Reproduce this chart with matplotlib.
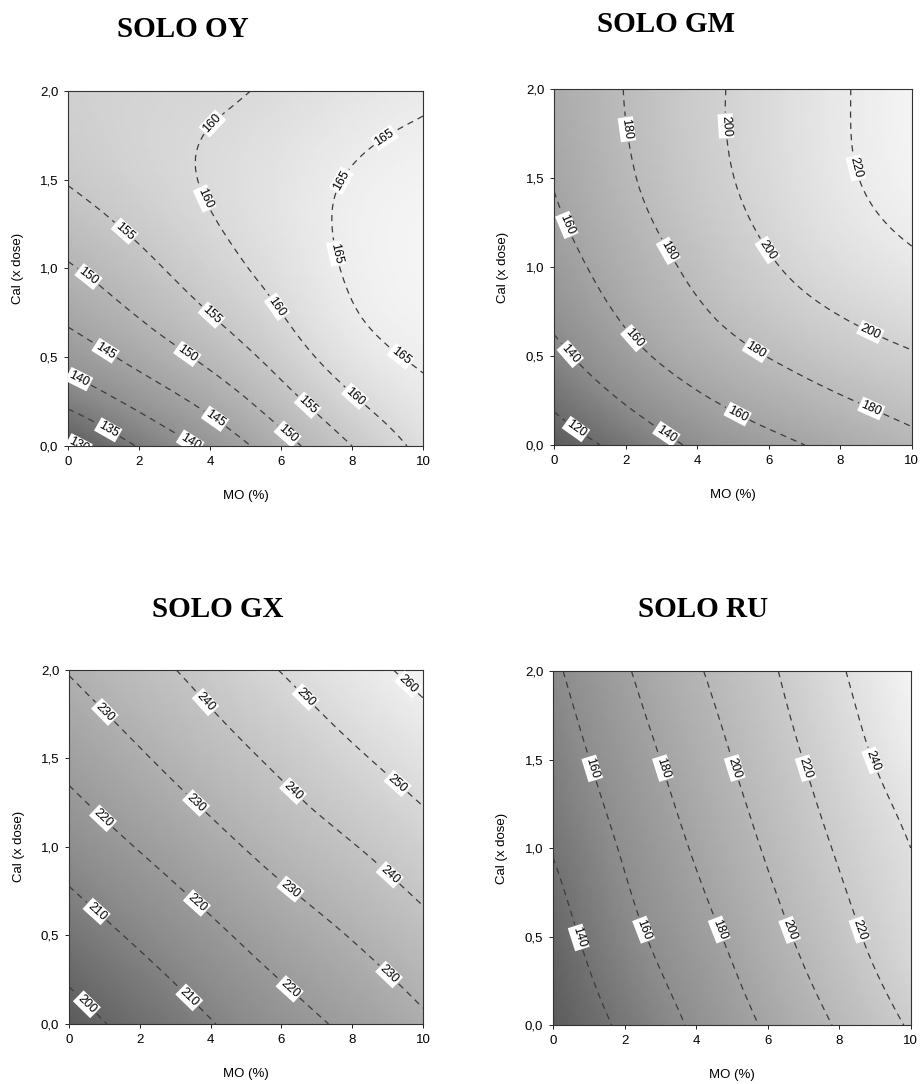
import matplotlib
matplotlib.use("Agg")
import matplotlib.pyplot as plt
import matplotlib.tri as mtri
import numpy as np
from matplotlib.colors import LinearSegmentedColormap
from matplotlib.ticker import FuncFormatter

MO = [0, 2, 4, 6, 8, 10]
CAL = [0.0, 0.5, 1.0, 1.5, 2.0]

# rows = CAL, cols = MO
OY_Z = [
    [129.0, 135.3, 141.2, 148.0, 155.0, 161.3],
    [142.0, 146.5, 151.3, 157.0, 162.7, 165.6],
    [149.5, 153.5, 157.8, 161.8, 165.5, 167.0],
    [155.3, 158.0, 160.4, 162.8, 165.3, 166.5],
    [157.5, 158.5, 159.2, 160.8, 162.8, 164.3],
]
GM_Z = [
    [110.0, 126.0, 143.0, 155.0, 165.0, 175.0],
    [135.0, 154.0, 169.0, 180.5, 190.5, 198.5],
    [152.0, 169.0, 184.0, 198.0, 209.0, 217.0],
    [161.0, 177.5, 193.0, 206.0, 217.5, 226.0],
    [166.0, 180.5, 195.0, 207.0, 218.5, 227.5],
]
GX_Z = [
    [196.5, 203.0, 209.5, 216.0, 222.0, 228.5],
    [205.0, 211.5, 218.0, 224.5, 230.5, 237.0],
    [214.0, 220.5, 227.0, 233.5, 239.5, 246.0],
    [222.5, 229.0, 235.5, 242.0, 248.5, 254.5],
    [230.5, 236.8, 243.2, 250.3, 256.5, 262.5],
]
RU_Z = [
    [124.0, 143.5, 163.0, 182.5, 202.0, 222.0],
    [131.5, 154.0, 173.0, 193.0, 213.5, 234.0],
    [141.0, 162.0, 182.0, 202.0, 222.0, 240.0],
    [149.5, 170.0, 190.0, 210.0, 230.5, 251.0],
    [157.0, 178.0, 198.0, 217.0, 238.0, 259.0],
]

OY_LEVELS = [130, 135, 140, 145, 150, 155, 160, 165]
GM_LEVELS = [120, 140, 160, 180, 200, 220]
GX_LEVELS = [200, 210, 220, 230, 240, 250, 260]
RU_LEVELS = [140, 160, 180, 200, 220, 240]

TITLES = ["SOLO OY", "SOLO GM", "SOLO GX", "SOLO RU"]

# where the contour labels sit (MO, Cal)
OY_LABELS = [(0.4, 0.04), (1.3, 0.15), (0.47, 0.44), (3.5, 0.04), (1.2, 0.58),
             (4.2, 0.17), (0.56, 0.95), (3.4, 0.53), (6.2, 0.07), (1.55, 1.2),
             (4.1, 0.75), (6.8, 0.24), (3.94, 1.84), (3.7, 1.38), (6.0, 0.8),
             (8.0, 0.26), (8.97, 1.72), (7.65, 1.5), (7.46, 1.08), (9.25, 0.47)]
GM_LABELS = [(0.65, 0.1), (0.56, 0.53), (3.2, 0.08), (0.4, 1.24), (2.4, 0.63),
             (5.2, 0.2), (1.9, 1.77), (3.1, 1.08), (5.7, 0.55), (8.9, 0.22),
             (4.65, 1.79), (6.0, 1.1), (8.9, 0.66), (8.5, 1.56)]
GX_LABELS = [(0.55, 0.12), (0.8, 0.64), (3.3, 0.13), (1.0, 1.17), (3.6, 0.68),
             (6.15, 0.18), (1.0, 1.76), (3.6, 1.25), (6.25, 0.76), (8.9, 0.25),
             (3.7, 1.79), (6.35, 1.32), (9.0, 0.83), (6.6, 1.83), (9.2, 1.34),
             (9.4, 1.88)]
RU_LABELS = [(0.8, 0.5), (1.1, 1.45), (2.55, 0.54), (3.05, 1.45), (4.65, 0.54),
             (5.05, 1.45), (6.65, 0.54), (7.05, 1.45), (8.6, 0.54), (9.0, 1.5)]

plt.rcParams["font.family"] = ["Liberation Sans", "DejaVu Sans"]

grays = LinearSegmentedColormap.from_list(
    "scan", ["#5c5c5c", "#8c8c8c", "#afafaf", "#d0d0d0", "#f4f4f4"])

fig = plt.figure(figsize=(9.22, 10.84), dpi=100)

# axes boxes in figure fraction, title anchor in figure fraction
boxes = [
    ([0.0738, 0.5886, 0.385, 0.3275], (0.198, 0.973)),
    ([0.6009, 0.5895, 0.388, 0.3284], (0.722, 0.977)),
    ([0.0748, 0.0554, 0.384, 0.3266], (0.236, 0.438)),
    ([0.5998, 0.0544, 0.388, 0.3266], (0.762, 0.438)),
]
panels = [
    (OY_Z, OY_LEVELS, OY_LABELS),
    (GM_Z, GM_LEVELS, GM_LABELS),
    (GX_Z, GX_LEVELS, GX_LABELS),
    (RU_Z, RU_LEVELS, RU_LABELS),
]

mo_g, cal_g = np.meshgrid(MO, CAL)
tri = mtri.Triangulation(mo_g.ravel(), cal_g.ravel())
refiner = mtri.UniformTriRefiner(tri)

for (box, tpos), (z, levels, lab_pos), title in zip(boxes, panels, TITLES):
    ax = fig.add_axes(box)
    zz = np.asarray(z, dtype=float).ravel()
    tri_f, z_f = refiner.refine_field(zz, subdiv=4)

    ax.tripcolor(tri_f, z_f, shading="gouraud", cmap=grays,
                 vmin=zz.min(), vmax=zz.max(), rasterized=True)
    cs = ax.tricontour(tri_f, z_f, levels=levels, colors="#3c3c3c",
                       linewidths=0.9, linestyles=[(0, (5, 4))])
    texts = ax.clabel(cs, levels, inline=True, fmt="%d", fontsize=9,
                      manual=lab_pos, inline_spacing=3)
    for t in texts:
        t.set_color("black")
        t.set_bbox(dict(facecolor="white", edgecolor="none", pad=1.2))

    ax.set_xlim(0, 10)
    ax.set_ylim(0, 2)
    ax.set_xticks(MO)
    ax.set_yticks(CAL)
    ax.yaxis.set_major_formatter(FuncFormatter(lambda v, _: f"{v:.1f}".replace(".", ",")))
    ax.tick_params(direction="out", length=3, width=0.6, labelsize=9.5, pad=4)
    for sp in ax.spines.values():
        sp.set_linewidth(0.8)
        sp.set_color("#333333")

    ax.set_xlabel("MO (%)", fontsize=9.5)
    ax.set_ylabel("Cal (x dose)", fontsize=9.5)
    ax.xaxis.set_label_coords(0.5, -0.125)
    ax.yaxis.set_label_coords(-0.125, 0.5)

    fig.text(tpos[0], tpos[1], title, ha="center", va="center",
             fontsize=21, fontweight="bold", family="Liberation Serif")

fig.savefig("out.png", dpi=100)
